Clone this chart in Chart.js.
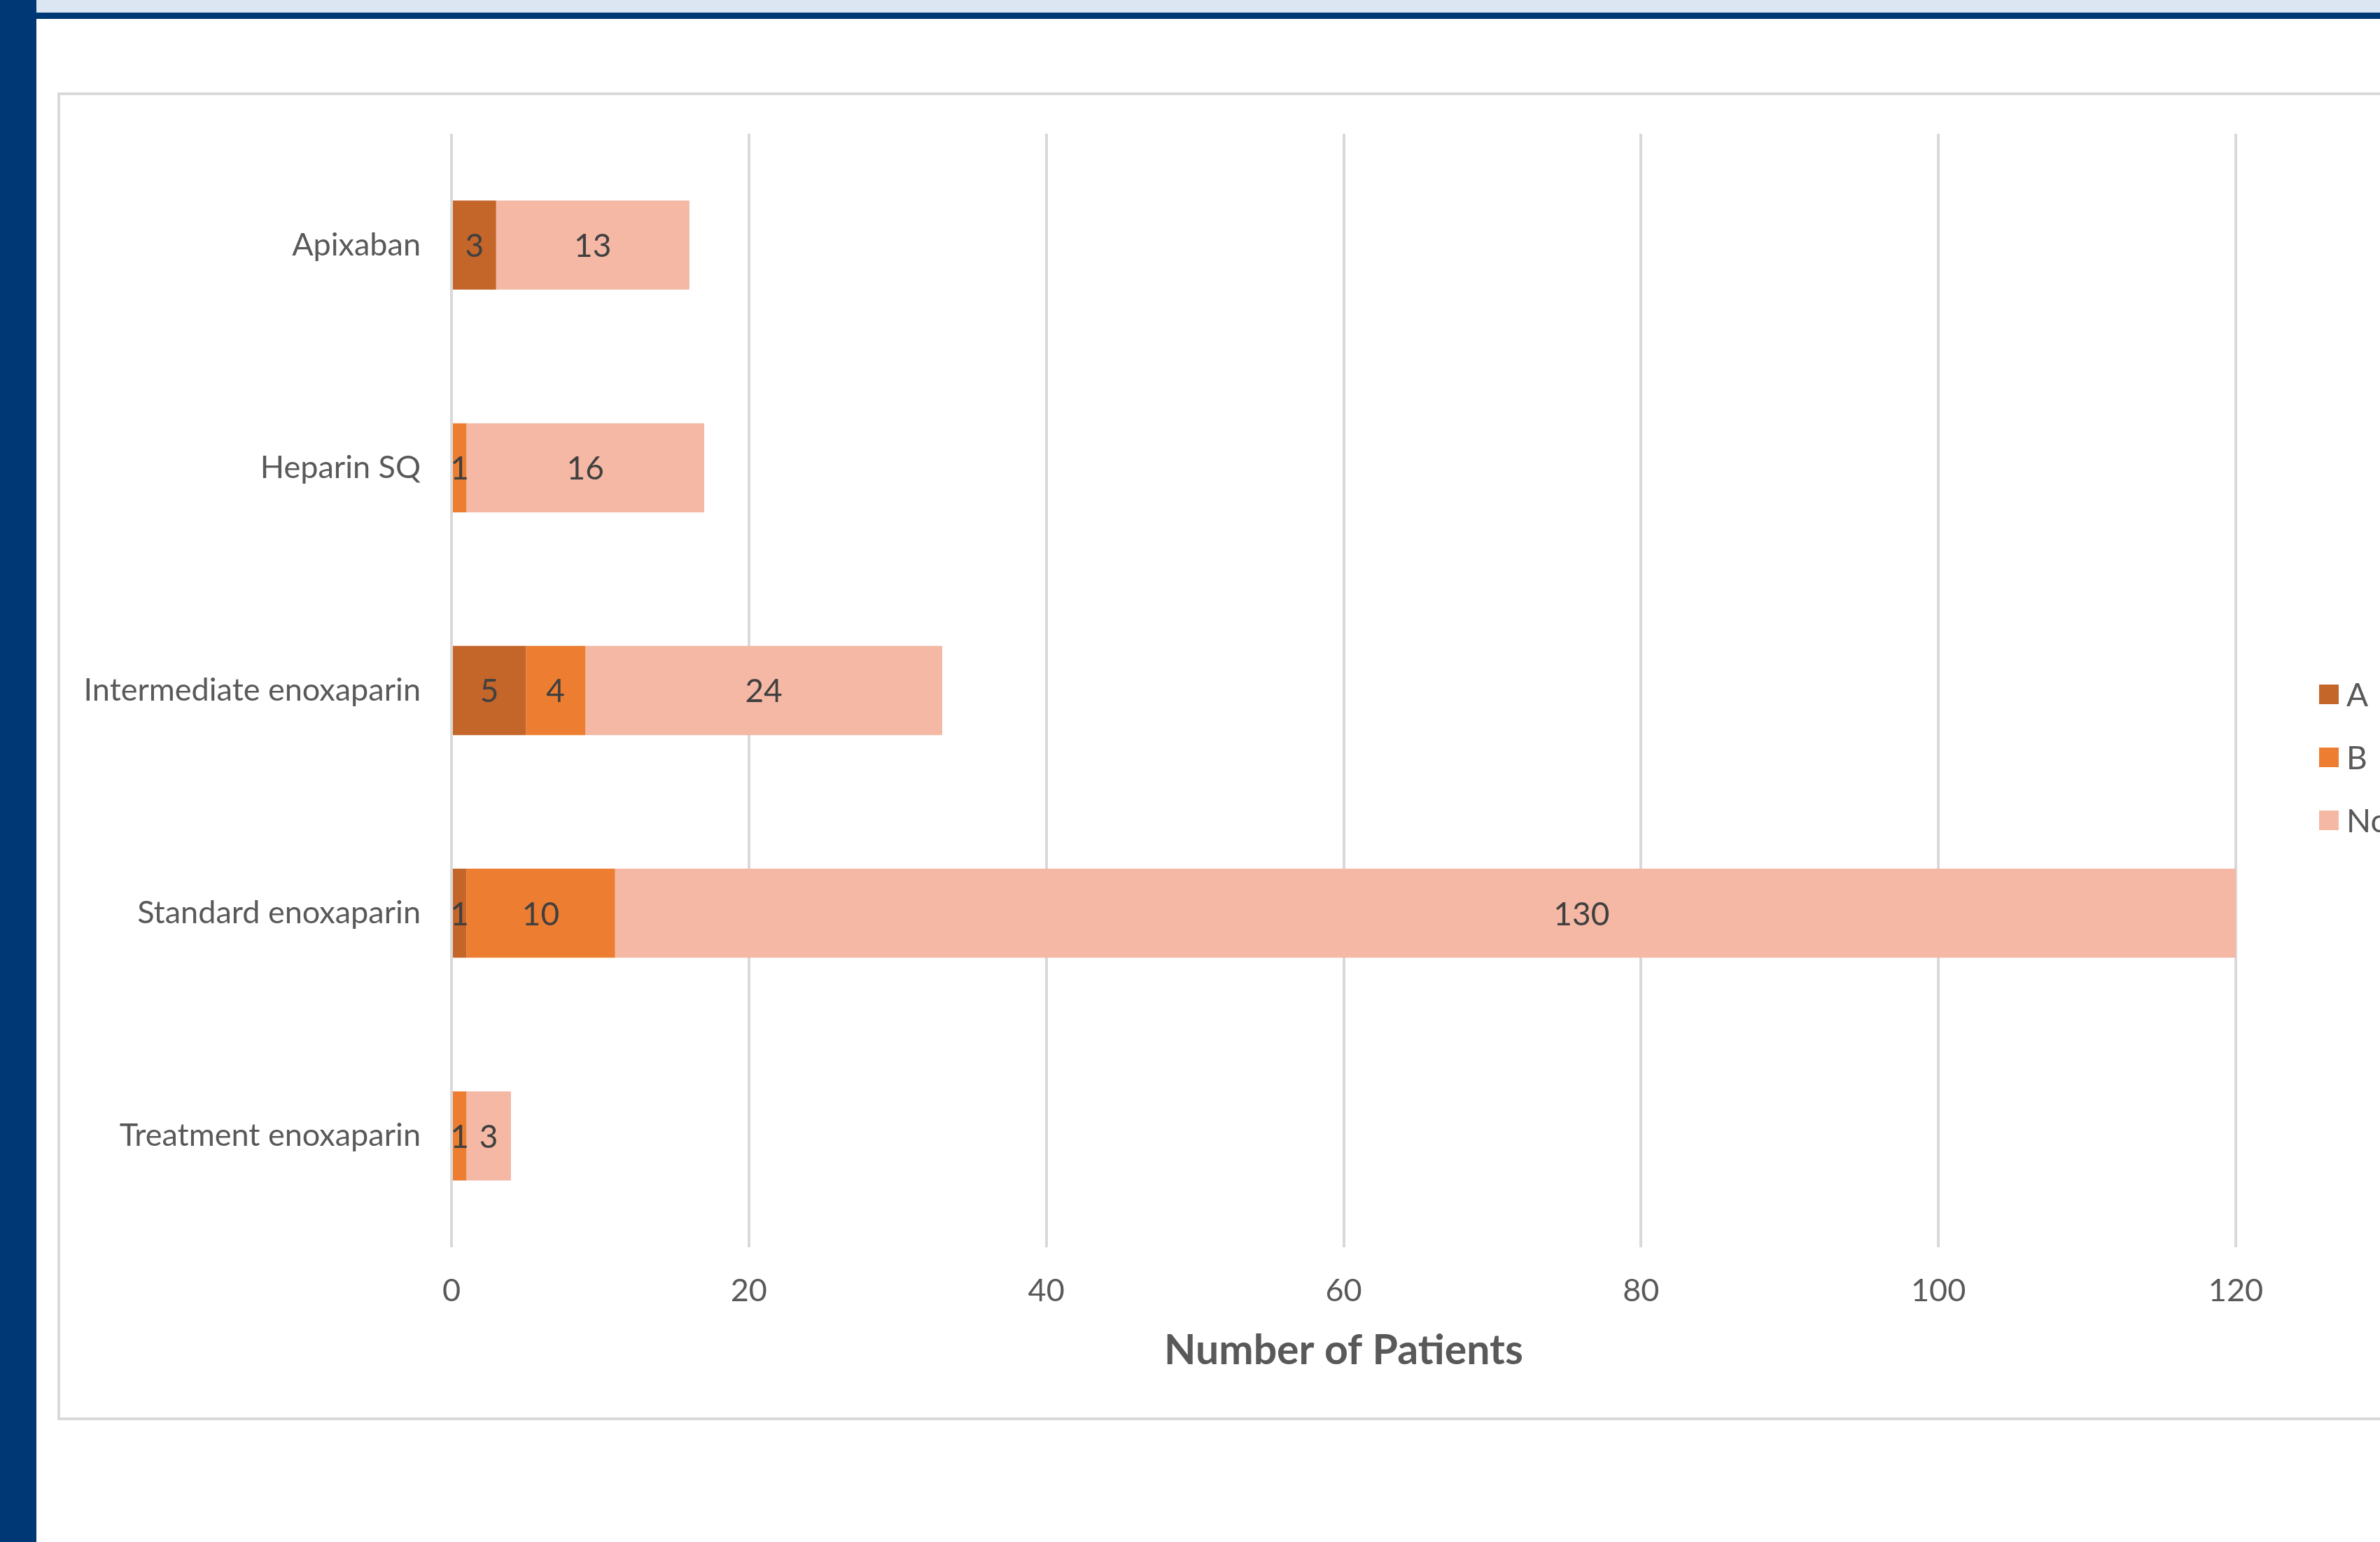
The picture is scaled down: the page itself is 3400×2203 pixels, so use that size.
<!DOCTYPE html>
<html>
<head>
  <meta charset="utf-8" />
  <script src="https://cdn.jsdelivr.net/npm/chart.js@4.4.1/dist/chart.umd.min.js"></script>
  <style>
    html,body{margin:0;padding:0;background:#fff;width:3400px;height:2203px;overflow:hidden;position:relative;}
    #topband{position:absolute;left:0;top:0;width:3400px;height:18px;background:#dce6f2;}
    #topline{position:absolute;left:0;top:18px;width:3400px;height:9px;background:#003876;}
    #sidebar{position:absolute;left:0;top:0;width:52px;height:2203px;background:#003876;}
    #frame{position:absolute;left:82px;top:132px;width:3500px;height:1889px;border:4px solid #d9d9d9;background:#fff;}
    #chart{display:block;}
  </style>
</head>
<body>
<div id="topband"></div>
<div id="topline"></div>
<div id="sidebar"></div>
<div id="frame"><canvas id="chart" width="3500" height="1889"></canvas></div>

<script>
/* ---------- Data ---------- */
const categories = ['Apixaban', 'Heparin SQ', 'Intermediate enoxaparin', 'Standard enoxaparin', 'Treatment enoxaparin'];
const seriesNames = ['A', 'B', 'None'];
const seriesA    = [3, 0, 5, 1, 0];
const seriesB    = [0, 1, 4, 10, 1];
const seriesNone = [13, 16, 24, 130, 3];
const xMin = 0, xMax = 120, xStep = 20;

/* ---------- Look ---------- */
const COLORS = ['#c46529', '#ed7d31', '#f4b8a5'];
const FONT = 'Lato, "Open Sans", sans-serif';
const GREY = '#595959';

/* ---------- Plugins ---------- */
// value labels centred on each stacked segment
const barLabels = {
  id: 'barLabels',
  afterDatasetsDraw(chart){
    const ctx = chart.ctx;
    ctx.save();
    ctx.font = '46px ' + FONT;
    ctx.fillStyle = '#404040';
    ctx.textAlign = 'center';
    ctx.textBaseline = 'middle';
    chart.data.datasets.forEach((ds, i) => {
      chart.getDatasetMeta(i).data.forEach((bar, j) => {
        const v = ds.data[j];
        if(!v) return;
        const p = bar.getProps(['x', 'base', 'y'], true);
        ctx.fillText(String(v), (p.x + p.base) / 2, p.y + 2);
      });
    });
    ctx.restore();
  }
};

// legend at right, Excel style
const sideLegend = {
  id: 'sideLegend',
  afterDraw(chart){
    const ctx = chart.ctx;
    const x0 = chart.chartArea.right + 119;
    const y0 = 856, gap = 90, box = 28;
    ctx.save();
    ctx.font = '46px ' + FONT;
    ctx.textBaseline = 'middle';
    chart.data.datasets.forEach((ds, i) => {
      const y = y0 + i * gap;
      ctx.fillStyle = ds.backgroundColor;
      ctx.fillRect(x0, y - box / 2, box, box);
      ctx.fillStyle = GREY;
      ctx.fillText(ds.label, x0 + box + 11, y + 2);
    });
    ctx.restore();
  }
};

/* ---------- Chart ---------- */
const datasets = [seriesA, seriesB, seriesNone].map((d, i) => ({
  label: seriesNames[i],
  data: d,
  backgroundColor: COLORS[i],
  borderWidth: 0,
  categoryPercentage: 1,
  barPercentage: 0.4
}));

new Chart(document.getElementById('chart').getContext('2d'), {
  type: 'bar',
  data: { labels: categories, datasets },
  options: {
    responsive: false,
    animation: false,
    indexAxis: 'y',
    layout: { padding: { top: 55, right: 392, left: 0, bottom: 0 } },
    plugins: { legend: { display: false }, tooltip: { enabled: false } },
    scales: {
      x: {
        stacked: true,
        min: xMin, max: xMax,
        ticks: { stepSize: xStep, color: GREY, font: { family: FONT, size: 45 }, padding: 35 },
        grid: { color: '#d9d9d9', lineWidth: 4, drawTicks: false },
        border: { display: false },
        title: { display: true, text: 'Number of Patients', color: GREY,
                 font: { family: FONT, size: 59, weight: 'bold' }, padding: { top: 0, bottom: 60 } },
        afterFit(s){ s.height = 243; s.paddingLeft = 0; s.paddingRight = 0; }
      },
      y: {
        stacked: true,
        ticks: { color: GREY, font: { family: FONT, size: 45 }, padding: 44 },
        grid: { display: false, drawTicks: false },
        border: { display: false },
        afterFit(s){ s.width = 559; s.paddingTop = 0; s.paddingBottom = 0; }
      }
    }
  },
  plugins: [barLabels, sideLegend]
});
</script>
</body>
</html>
